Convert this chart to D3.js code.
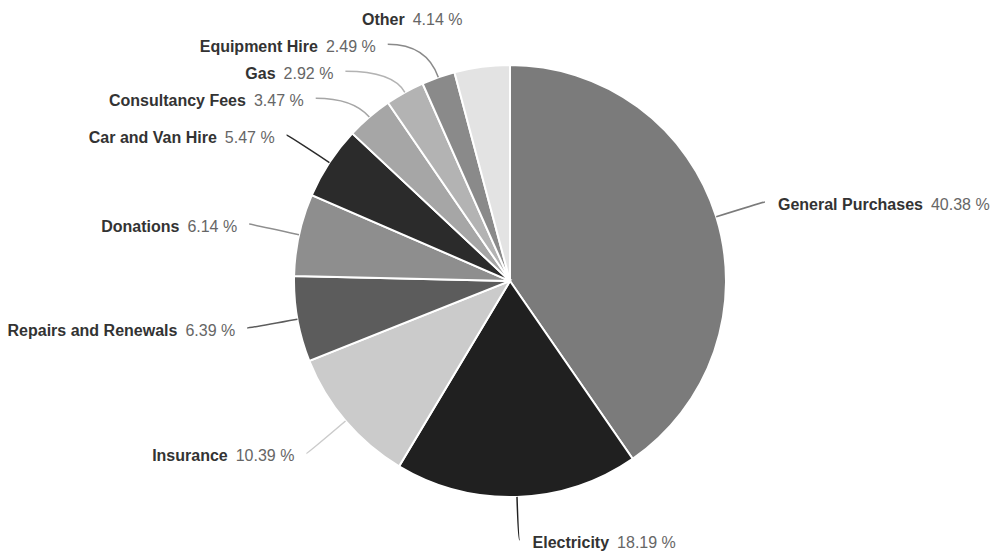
<!DOCTYPE html>
<html>
<head>
<meta charset="utf-8">
<script src="https://cdn.jsdelivr.net/npm/d3@7"></script>
<style>
  body { margin: 0; background: #fff; }
  svg { font-family: "Liberation Sans", Arial, sans-serif; }
</style>
</head>
<body>
<svg id="chart" width="992" height="552"></svg>
<script>
// categories, clockwise from 12 o'clock
var names = ["General Purchases", "Electricity", "Insurance", "Repairs and Renewals", "Donations",
             "Car and Van Hire", "Consultancy Fees", "Gas", "Equipment Hire", "Other"];
var values = [40.38, 18.19, 10.39, 6.39, 6.14, 5.47, 3.47, 2.92, 2.49, 4.14];
var shades = ["#7b7b7b", "#202020", "#cbcbcb", "#5c5c5c", "#8e8e8e",
              "#2b2b2b", "#a6a6a6", "#b3b3b3", "#8a8a8a", "#e3e3e3"];

var W = 992, H = 552;
var cx = 510, cy = 281, radius = 216;
var labelR = 266;      // where leader lines end
var spacing = 27;      // min vertical gap between labels on one side

var svg = d3.select("#chart");
var g = svg.append("g").attr("transform", "translate(" + cx + "," + cy + ")");

var pie = d3.pie().sort(null).value(function(d){ return d; });
var arcs = pie(values);
var arc = d3.arc().innerRadius(0).outerRadius(radius);

var color = d3.scaleOrdinal().domain(names).range(shades);

g.selectAll("path.slice")
    .data(arcs)
    .enter().append("path")
    .attr("class", "slice")
    .attr("d", arc)
    .attr("fill", function(d, i){ return color(names[i]); })
    .attr("stroke", "#fff")
    .attr("stroke-width", 2);

// label layout
var labels = arcs.map(function(d, i){
    var a = (d.startAngle + d.endAngle) / 2;
    var s = Math.sin(a), c = Math.cos(a);
    return {
        i: i, a: a, s: s, c: c,
        side: s >= 0 ? 1 : -1,
        ex: radius * s, ey: -radius * c,
        x: labelR * s, y: -labelR * c,
        moved: false
    };
});

// push labels apart on each side, top to bottom
[-1, 1].forEach(function(side){
    var list = labels.filter(function(l){ return l.side == side; })
        .sort(function(a, b){ return a.y - b.y; });
    for (var k = 1; k < list.length; k++) {
        if (list[k].y < list[k-1].y + spacing) {
            list[k].y = list[k-1].y + spacing;
            list[k].moved = true;
        }
    }
});

labels.forEach(function(l){
    var maxY = H - 12 - cy;
    if (l.y > maxY) l.y = maxY;
    if (l.moved) {
        var dy = Math.min(Math.abs(l.y), labelR);
        l.x = l.side * Math.sqrt(labelR * labelR - dy * dy);
    }
    l.x += l.side;
    // control point: where the radial line reaches the label's height
    var t = (l.y - l.ey) / (-l.c || 1e-6);
    var qx = l.ex + t * l.s;
    if (l.side < 0) qx = Math.max(Math.min(qx, l.ex), l.x);
    else qx = Math.min(Math.max(qx, l.ex), l.x);
    l.qx = qx;
});

// the palest slice has no visible leader in the original
g.selectAll("path.leader")
    .data(labels.filter(function(l){ return d3.hsl(color(names[l.i])).l < 0.85; }))
    .enter().append("path")
    .attr("class", "leader")
    .attr("fill", "none")
    .attr("stroke", function(l){ return color(names[l.i]); })
    .attr("stroke-width", 1.5)
    .attr("d", function(l){
        return "M" + l.ex + "," + l.ey + "Q" + l.qx + "," + l.y + " " + l.x + "," + l.y;
    });

var txt = g.selectAll("text.label")
    .data(labels)
    .enter().append("text")
    .attr("class", "label")
    .attr("x", function(l){ return l.x + (l.side > 0 ? 13 : -12); })
    .attr("y", function(l){ return l.y + 2; })
    .attr("dy", "0.35em")
    .attr("text-anchor", function(l){ return l.side > 0 ? "start" : "end"; })
    .style("font-size", "16px");

txt.append("tspan")
    .attr("fill", "#333")
    .style("font-weight", "bold")
    .text(function(l){ return names[l.i]; });

txt.append("tspan")
    .attr("fill", "#666")
    .attr("dx", 8)
    .text(function(l){ return d3.format(".2f")(values[l.i]) + " %"; });
</script>
</body>
</html>
